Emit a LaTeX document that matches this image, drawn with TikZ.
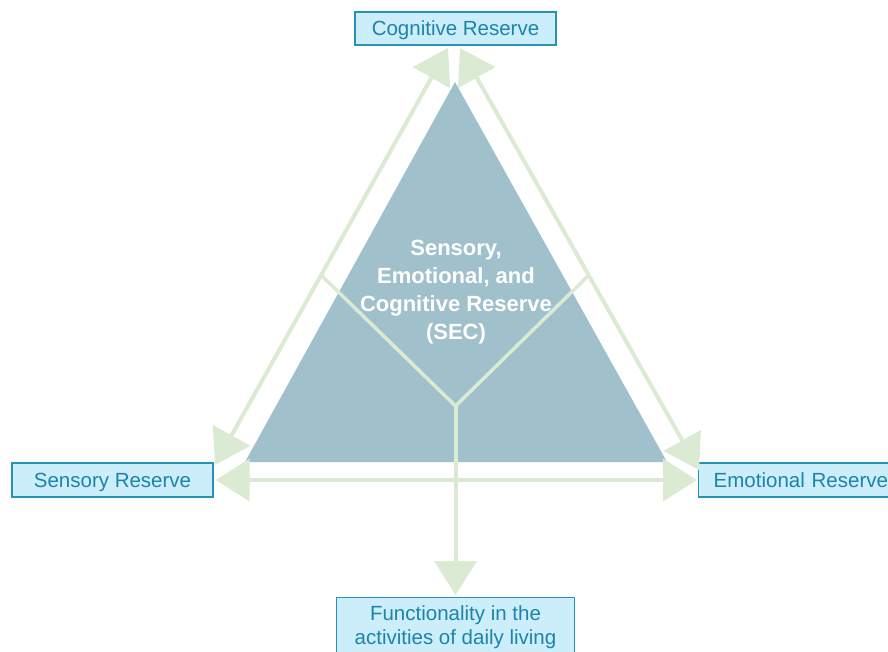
\documentclass[tikz,border=0pt]{standalone}
\usepackage{fontspec}
\setmainfont{Liberation Sans}
\usetikzlibrary{arrows.meta}
\definecolor{sectri}{RGB}{160,193,203}
\definecolor{leafgreen}{RGB}{219,234,210}
\definecolor{boxfill}{RGB}{204,238,251}
\definecolor{boxline}{RGB}{38,146,182}
\definecolor{boxtext}{RGB}{28,132,168}
\tikzset{
  reservebox/.style={draw=boxline, line width=1.4pt, fill=boxfill, text=boxtext,
    font=\fontsize{20.5}{24}\selectfont, align=center, inner sep=0pt},
  onerow/.style={text height=19pt, text depth=4pt},
  flow/.style={draw=leafgreen, line width=4pt},
  bigtip/.tip={Triangle[length=34pt,width=42pt]},
  twoway/.style={flow, {bigtip}-{bigtip}, fill=leafgreen},
  oneway/.style={flow, -{bigtip}, fill=leafgreen},
  branch/.style={draw=leafgreen, line width=3.5pt},
}
\begin{document}
\begin{tikzpicture}[x=1pt, y=-1pt]
  \useasboundingbox (0,0) rectangle (888,652);

  % central triangle
  \fill[sectri] (455,82) -- (667,462) -- (245,462) -- cycle;

  % the three reserves and the outcome
  \node[reservebox, onerow, minimum width=201pt, minimum height=33pt] (cog) at (455.5,28.5) {Cognitive Reserve};
  \node[reservebox, onerow, minimum width=201pt, minimum height=34pt] (sen) at (112.5,480) {Sensory Reserve};
  \node[reservebox, onerow, minimum height=34pt, anchor=west, inner xsep=15pt, text width=200pt, align=left] (emo) at (698,480) {Emotional Reserve};
  \node[reservebox, minimum width=238pt, anchor=north, inner ysep=8pt, align=center, text depth=34pt] (fun) at (455.5,597) {Functionality in the\\activities of daily living};

  % two-way links along the sides of the triangle
  \coordinate (lt) at (448,48);
  \coordinate (lb) at (215,465);
  \coordinate (rt) at (460,48);
  \coordinate (rb) at (699,470);
  \draw[twoway] (lt) -- (lb);
  \draw[twoway] (rt) -- (rb);
  \draw[twoway] ([xshift=2pt]sen.east) -- ([xshift=-1pt]emo.west);

  % the Y inside the triangle
  \coordinate (hub) at (455.5,406);
  \coordinate (yl) at (321,275);
  \coordinate (yr) at (589,275);
  \draw[branch, line join=miter] (yl) -- (hub) -- (yr);
  \draw[oneway] (hub) -- ([yshift=2pt]fun.north);

  % label of the triangle
  \node[text=white, font=\bfseries\fontsize{22}{28}\selectfont, align=center] (sec) at (456,292)
    {Sensory,\\Emotional, and\\Cognitive Reserve\\(SEC)};
\end{tikzpicture}
\end{document}
